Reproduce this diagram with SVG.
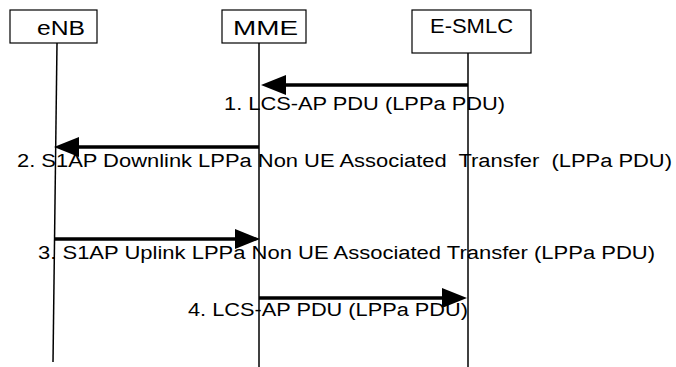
<svg xmlns="http://www.w3.org/2000/svg" width="676" height="367" viewBox="0 0 676 367">
<style>
.box{fill:#fff;stroke:#000;stroke-width:1.2}
.life{stroke:#000;stroke-width:1.5;fill:none}
.msg{stroke:#000;stroke-width:3.5;fill:none}
.head{fill:#000}
.nt{font-family:"Liberation Sans",Arial,sans-serif;font-size:20px;fill:#000}
.lt{font-family:"Liberation Sans",Arial,sans-serif;font-size:18px;fill:#000;white-space:pre}
</style>
<rect width="676" height="367" fill="#fff"/>
<g id="eNB">
<rect class="box" x="10" y="10" width="87" height="33"/>
<text class="nt" x="37" y="35" textLength="48" lengthAdjust="spacingAndGlyphs">eNB</text>
<line class="life" x1="57" y1="43" x2="53" y2="362"/>
</g>
<g id="MME">
<rect class="box" x="222" y="10" width="84" height="33"/>
<text class="nt" x="233" y="35" textLength="65" lengthAdjust="spacingAndGlyphs">MME</text>
<line class="life" x1="259" y1="43" x2="259" y2="367"/>
</g>
<g id="E-SMLC">
<rect class="box" x="412" y="10" width="119" height="43"/>
<text class="nt" x="430" y="33" textLength="83" lengthAdjust="spacingAndGlyphs">E-SMLC</text>
<line class="life" x1="468" y1="53" x2="468" y2="367"/>
</g>
<g id="connectors">
<line class="msg" x1="468" y1="85" x2="282" y2="85"/>
<polygon class="head" points="261,85 286,75 286,95"/>
<text class="lt" x="224" y="110" textLength="281" lengthAdjust="spacingAndGlyphs">1. LCS-AP PDU (LPPa PDU)</text>
<line class="msg" x1="259" y1="147" x2="74" y2="147"/>
<polygon class="head" points="54,147 79,137 79,157"/>
<text class="lt" x="17" y="167" textLength="655" lengthAdjust="spacingAndGlyphs">2. S1AP Downlink LPPa Non UE Associated  Transfer  (LPPa PDU)</text>
<line class="msg" x1="54" y1="239" x2="240" y2="239"/>
<polygon class="head" points="260,239 235,229 235,249"/>
<text class="lt" x="38" y="259" textLength="617" lengthAdjust="spacingAndGlyphs">3. S1AP Uplink LPPa Non UE Associated Transfer (LPPa PDU)</text>
<line class="msg" x1="259" y1="298" x2="447" y2="298"/>
<polygon class="head" points="467,298 442,288 442,308"/>
<text class="lt" x="188" y="316" textLength="280" lengthAdjust="spacingAndGlyphs">4. LCS-AP PDU (LPPa PDU)</text>
</g>
</svg>
